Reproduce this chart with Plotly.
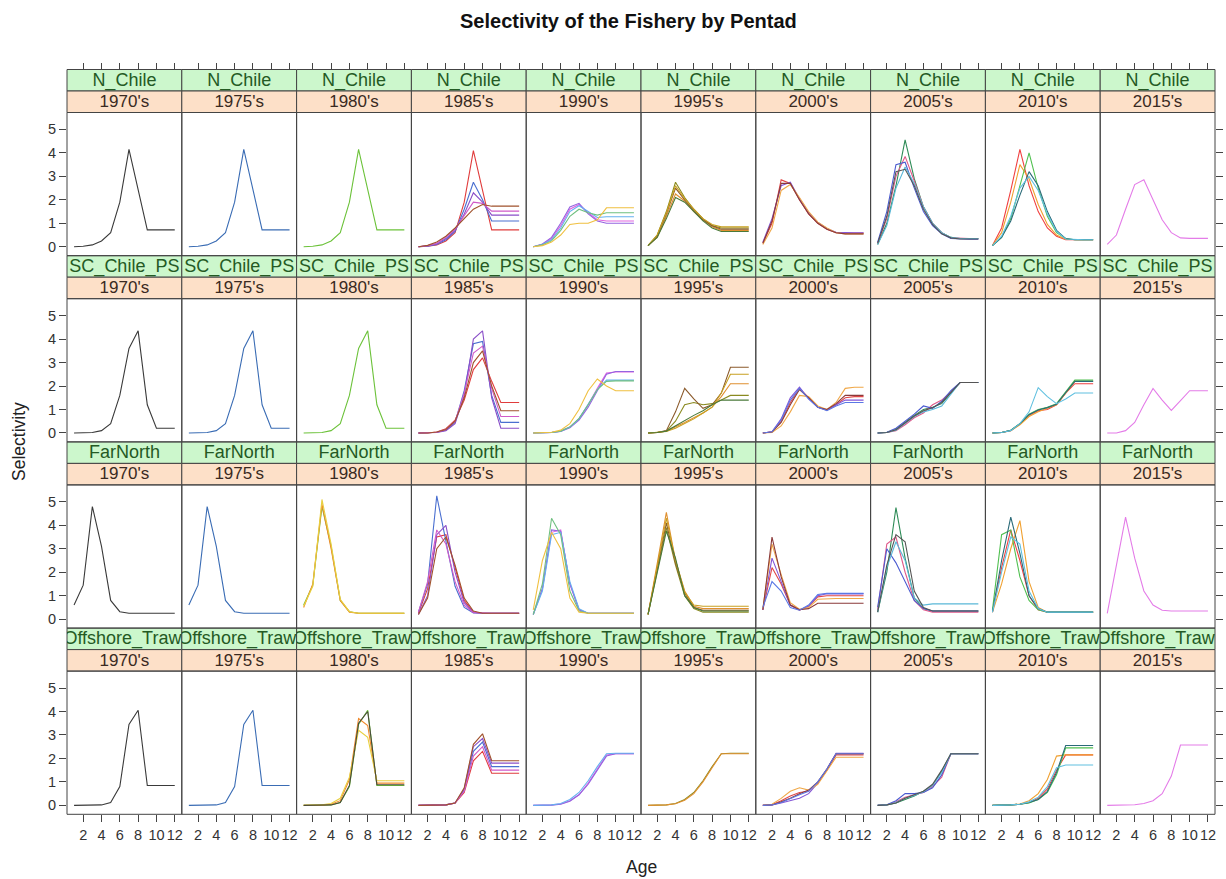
import plotly.graph_objects as go

# ---------------------------------------------------------------- data
ages = list(range(1, 13))
fleets = ["N_Chile", "SC_Chile_PS", "FarNorth", "Offshore_Trawl"]
pentads = ["1970's", "1975's", "1980's", "1985's", "1990's",
           "1995's", "2000's", "2005's", "2010's", "2015's"]
x_ticks = [2, 4, 6, 8, 10, 12]
y_ticks = [0, 1, 2, 3, 4, 5]

# selectivity-at-age curves (one list per year) for each fleet and pentad
n_chile = {
    "1970's": [[0.0, 0.02, 0.08, 0.25, 0.6, 1.9, 4.15, 2.45, 0.72, 0.72, 0.72, 0.72]],
    "1975's": [[0.0, 0.02, 0.08, 0.25, 0.6, 1.9, 4.15, 2.45, 0.72, 0.72, 0.72, 0.72]],
    "1980's": [[0.0, 0.02, 0.08, 0.25, 0.6, 1.9, 4.15, 2.45, 0.72, 0.72, 0.72, 0.72]],
    "1985's": [[0.0, 0.02, 0.08, 0.25, 0.6, 1.9, 4.1, 2.4, 0.72, 0.72, 0.72, 0.72],
               [0.0, 0.03, 0.1, 0.3, 0.65, 1.6, 2.75, 2.0, 1.1, 1.1, 1.1, 1.1],
               [0.0, 0.04, 0.12, 0.35, 0.7, 1.4, 2.3, 1.9, 1.35, 1.35, 1.35, 1.35],
               [0.0, 0.05, 0.15, 0.4, 0.75, 1.3, 1.9, 1.85, 1.52, 1.52, 1.52, 1.52],
               [0.0, 0.06, 0.2, 0.45, 0.8, 1.2, 1.6, 1.8, 1.73, 1.73, 1.73, 1.73]],
    "1990's": [[0.0, 0.1, 0.35, 0.9, 1.6, 1.8, 1.45, 1.15, 1.1, 1.1, 1.1, 1.1],
               [0.0, 0.12, 0.4, 1.0, 1.7, 1.85, 1.4, 1.1, 1.0, 1.0, 1.0, 1.0],
               [0.0, 0.1, 0.3, 0.8, 1.5, 1.75, 1.5, 1.25, 1.28, 1.28, 1.28, 1.28],
               [0.0, 0.08, 0.25, 0.7, 1.3, 1.6, 1.45, 1.35, 1.45, 1.45, 1.45, 1.45],
               [0.0, 0.05, 0.2, 0.5, 0.95, 1.0, 1.0, 1.15, 1.66, 1.66, 1.66, 1.66]],
    "1995's": [[0.05, 0.5, 1.5, 2.75, 2.1, 1.6, 1.2, 0.9, 0.8, 0.8, 0.8, 0.8],
               [0.05, 0.4, 1.3, 2.25, 1.95, 1.5, 1.15, 0.85, 0.7, 0.7, 0.7, 0.7],
               [0.05, 0.45, 1.4, 2.5, 2.0, 1.55, 1.15, 0.9, 0.75, 0.75, 0.75, 0.75],
               [0.05, 0.5, 1.45, 2.6, 2.05, 1.6, 1.2, 0.95, 0.85, 0.85, 0.85, 0.85],
               [0.05, 0.4, 1.2, 2.1, 1.9, 1.5, 1.1, 0.8, 0.65, 0.65, 0.65, 0.65]],
    "2000's": [[0.15, 1.0, 2.85, 2.7, 2.0, 1.4, 1.0, 0.75, 0.6, 0.58, 0.58, 0.58],
               [0.2, 1.2, 2.6, 2.75, 2.05, 1.45, 1.05, 0.78, 0.62, 0.6, 0.6, 0.6],
               [0.1, 0.8, 2.4, 2.65, 2.1, 1.5, 1.05, 0.8, 0.6, 0.55, 0.55, 0.55],
               [0.15, 1.1, 2.7, 2.7, 2.0, 1.4, 1.0, 0.75, 0.6, 0.55, 0.55, 0.55]],
    "2005's": [[0.1, 1.0, 2.6, 4.55, 2.9, 1.7, 1.0, 0.6, 0.4, 0.35, 0.35, 0.35],
               [0.15, 1.2, 3.0, 3.85, 2.8, 1.7, 1.0, 0.6, 0.38, 0.35, 0.35, 0.35],
               [0.2, 1.5, 3.5, 3.6, 2.5, 1.5, 0.9, 0.55, 0.35, 0.32, 0.32, 0.32],
               [0.1, 0.9, 2.5, 3.4, 2.7, 1.7, 1.0, 0.6, 0.4, 0.35, 0.35, 0.35],
               [0.15, 1.3, 3.2, 3.3, 2.6, 1.6, 0.95, 0.55, 0.38, 0.33, 0.33, 0.33]],
    "2010's": [[0.05, 0.8, 2.4, 4.15, 2.6, 1.5, 0.8, 0.45, 0.3, 0.3, 0.3, 0.3],
               [0.05, 0.6, 1.9, 3.5, 2.9, 1.8, 0.95, 0.5, 0.32, 0.3, 0.3, 0.3],
               [0.05, 0.4, 1.2, 2.6, 4.0, 2.5, 1.3, 0.6, 0.35, 0.3, 0.3, 0.3],
               [0.05, 0.4, 1.1, 2.2, 3.2, 2.6, 1.5, 0.7, 0.35, 0.3, 0.3, 0.3],
               [0.05, 0.45, 1.3, 2.5, 3.0, 2.4, 1.4, 0.65, 0.33, 0.3, 0.3, 0.3]],
    "2015's": [[0.1, 0.5, 1.6, 2.65, 2.85, 2.0, 1.15, 0.6, 0.38, 0.36, 0.36, 0.36]],
}

sc_chile_ps = {
    "1970's": [[0.0, 0.0, 0.02, 0.1, 0.4, 1.6, 3.6, 4.35, 1.2, 0.2, 0.2, 0.2]],
    "1975's": [[0.0, 0.0, 0.02, 0.1, 0.4, 1.6, 3.6, 4.35, 1.2, 0.2, 0.2, 0.2]],
    "1980's": [[0.0, 0.0, 0.02, 0.1, 0.4, 1.6, 3.6, 4.35, 1.2, 0.2, 0.2, 0.2]],
    "1985's": [[0.0, 0.0, 0.04, 0.18, 0.55, 1.4, 2.7, 3.2, 2.2, 1.3, 1.3, 1.3],
               [0.0, 0.0, 0.03, 0.12, 0.45, 1.8, 3.8, 3.9, 1.6, 0.45, 0.45, 0.45],
               [0.0, 0.0, 0.02, 0.1, 0.4, 1.6, 4.0, 4.35, 1.5, 0.2, 0.2, 0.2],
               [0.0, 0.0, 0.03, 0.15, 0.5, 1.7, 3.4, 3.7, 1.9, 0.7, 0.7, 0.7],
               [0.0, 0.0, 0.04, 0.15, 0.5, 1.5, 3.0, 3.5, 2.0, 0.95, 0.95, 0.95]],
    "1990's": [[0.0, 0.0, 0.02, 0.08, 0.25, 0.6, 1.2, 1.9, 2.55, 2.6, 2.6, 2.6],
               [0.0, 0.0, 0.02, 0.07, 0.22, 0.55, 1.1, 1.8, 2.5, 2.62, 2.62, 2.62],
               [0.0, 0.0, 0.02, 0.08, 0.25, 0.6, 1.2, 1.85, 2.25, 2.25, 2.25, 2.25],
               [0.0, 0.0, 0.02, 0.08, 0.26, 0.62, 1.2, 1.85, 2.2, 2.22, 2.22, 2.22],
               [0.0, 0.0, 0.03, 0.12, 0.4, 1.0, 1.8, 2.3, 2.0, 1.8, 1.8, 1.8]],
    "1995's": [[0.0, 0.02, 0.08, 0.5, 1.2, 1.3, 1.2, 1.25, 1.4, 1.6, 1.6, 1.6],
               [0.0, 0.02, 0.08, 0.25, 0.45, 0.65, 0.85, 1.1, 1.55, 2.1, 2.1, 2.1],
               [0.0, 0.02, 0.1, 0.9, 1.9, 1.45, 1.05, 1.2, 1.7, 2.8, 2.8, 2.8],
               [0.0, 0.02, 0.06, 0.2, 0.4, 0.6, 0.85, 1.1, 1.7, 2.5, 2.5, 2.5],
               [0.0, 0.02, 0.08, 0.3, 0.55, 0.75, 0.95, 1.2, 1.4, 1.4, 1.4, 1.4]],
    "2000's": [[0.0, 0.05, 0.5, 1.3, 1.9, 1.5, 1.1, 0.97, 1.2, 1.5, 1.55, 1.55],
               [0.0, 0.05, 0.6, 1.5, 1.95, 1.45, 1.1, 0.98, 1.2, 1.4, 1.4, 1.4],
               [0.0, 0.02, 0.3, 0.9, 1.6, 1.55, 1.15, 1.0, 1.3, 1.9, 1.95, 1.95],
               [0.0, 0.04, 0.45, 1.2, 1.85, 1.5, 1.1, 1.0, 1.25, 1.6, 1.6, 1.6],
               [0.0, 0.05, 0.55, 1.4, 1.9, 1.45, 1.1, 0.95, 1.15, 1.3, 1.3, 1.3]],
    "2005's": [[0.0, 0.02, 0.15, 0.45, 0.75, 1.0, 1.1, 1.25, 1.7, 2.15, 2.15, 2.15],
               [0.0, 0.02, 0.1, 0.35, 0.65, 0.85, 1.2, 1.4, 1.75, 2.15, 2.15, 2.15],
               [0.0, 0.03, 0.2, 0.5, 0.8, 1.15, 1.05, 1.35, 1.8, 2.15, 2.15, 2.15],
               [0.0, 0.02, 0.12, 0.4, 0.7, 0.9, 1.0, 1.15, 1.65, 2.15, 2.15, 2.15],
               [0.0, 0.02, 0.14, 0.42, 0.72, 0.95, 1.08, 1.3, 1.72, 2.15, 2.15, 2.15]],
    "2010's": [[0.0, 0.02, 0.1, 0.38, 0.75, 0.95, 1.0, 1.2, 1.7, 2.1, 2.1, 2.1],
               [0.0, 0.02, 0.1, 0.35, 0.7, 0.9, 1.05, 1.2, 1.7, 2.2, 2.2, 2.2],
               [0.0, 0.02, 0.12, 0.4, 0.8, 1.0, 1.1, 1.25, 1.75, 2.25, 2.25, 2.25],
               [0.0, 0.02, 0.11, 0.4, 0.78, 0.98, 1.08, 1.22, 1.72, 2.2, 2.2, 2.2],
               [0.0, 0.02, 0.1, 0.4, 0.9, 1.93, 1.55, 1.25, 1.45, 1.7, 1.7, 1.7]],
    "2015's": [[0.0, 0.0, 0.1, 0.45, 1.2, 1.9, 1.4, 0.96, 1.38, 1.8, 1.8, 1.8]],
}

far_north = {
    "1970's": [[0.6, 1.45, 4.8, 3.1, 0.8, 0.32, 0.25, 0.25, 0.25, 0.25, 0.25, 0.25]],
    "1975's": [[0.6, 1.45, 4.8, 3.1, 0.8, 0.32, 0.25, 0.25, 0.25, 0.25, 0.25, 0.25]],
    "1980's": [[0.6, 1.45, 4.8, 3.1, 0.8, 0.32, 0.25, 0.25, 0.25, 0.25, 0.25, 0.25],
               [0.5, 1.5, 4.9, 3.0, 0.8, 0.3, 0.25, 0.25, 0.25, 0.25, 0.25, 0.25],
               [0.55, 1.4, 5.1, 3.2, 0.85, 0.32, 0.25, 0.25, 0.25, 0.25, 0.25, 0.25]],
    "1985's": [[0.25, 1.3, 3.5, 3.6, 2.2, 0.8, 0.3, 0.25, 0.25, 0.25, 0.25, 0.25],
               [0.3, 1.5, 5.25, 3.3, 1.4, 0.5, 0.27, 0.25, 0.25, 0.25, 0.25, 0.25],
               [0.2, 1.0, 3.6, 4.0, 2.0, 0.7, 0.3, 0.25, 0.25, 0.25, 0.25, 0.25],
               [0.3, 1.6, 3.8, 3.2, 1.6, 0.6, 0.28, 0.25, 0.25, 0.25, 0.25, 0.25],
               [0.2, 0.9, 3.0, 3.5, 2.3, 0.9, 0.35, 0.25, 0.25, 0.25, 0.25, 0.25]],
    "1990's": [[0.2, 1.3, 3.7, 3.8, 1.5, 0.4, 0.25, 0.25, 0.25, 0.25, 0.25, 0.25],
               [0.2, 1.3, 3.8, 3.75, 1.5, 0.4, 0.25, 0.25, 0.25, 0.25, 0.25, 0.25],
               [0.2, 1.2, 3.6, 3.7, 1.6, 0.45, 0.25, 0.25, 0.25, 0.25, 0.25, 0.25],
               [0.2, 1.5, 4.3, 3.6, 1.2, 0.35, 0.25, 0.25, 0.25, 0.25, 0.25, 0.25],
               [0.4, 2.5, 3.7, 3.0, 0.9, 0.3, 0.25, 0.25, 0.25, 0.25, 0.25, 0.25]],
    "1995's": [[0.2, 2.0, 3.9, 2.3, 1.0, 0.45, 0.3, 0.3, 0.3, 0.3, 0.3, 0.3],
               [0.2, 2.3, 4.55, 2.5, 1.2, 0.55, 0.45, 0.45, 0.45, 0.45, 0.45, 0.45],
               [0.2, 2.1, 4.1, 2.4, 1.1, 0.5, 0.38, 0.38, 0.38, 0.38, 0.38, 0.38],
               [0.2, 2.2, 4.3, 2.5, 1.15, 0.6, 0.55, 0.55, 0.55, 0.55, 0.55, 0.55],
               [0.2, 2.0, 3.75, 2.6, 1.0, 0.5, 0.35, 0.35, 0.35, 0.35, 0.35, 0.35]],
    "2000's": [[0.4, 2.2, 1.5, 0.6, 0.38, 0.55, 0.95, 1.0, 1.0, 1.0, 1.0, 1.0],
               [0.4, 2.6, 1.6, 0.6, 0.4, 0.55, 1.0, 1.08, 1.08, 1.08, 1.08, 1.08],
               [0.45, 3.2, 1.9, 0.7, 0.42, 0.5, 0.85, 0.88, 0.88, 0.88, 0.88, 0.88],
               [0.4, 3.5, 1.8, 0.6, 0.4, 0.45, 0.68, 0.68, 0.68, 0.68, 0.68, 0.68],
               [0.5, 1.6, 1.2, 0.5, 0.38, 0.6, 1.05, 1.1, 1.1, 1.1, 1.1, 1.1]],
    "2005's": [[0.3, 2.0, 4.75, 2.6, 0.9, 0.45, 0.35, 0.35, 0.35, 0.35, 0.35, 0.35],
               [0.4, 3.2, 3.5, 2.0, 0.8, 0.4, 0.3, 0.3, 0.3, 0.3, 0.3, 0.3],
               [0.5, 3.0, 2.4, 1.6, 0.8, 0.45, 0.35, 0.35, 0.35, 0.35, 0.35, 0.35],
               [0.3, 2.2, 3.3, 2.5, 0.9, 0.6, 0.65, 0.65, 0.65, 0.65, 0.65, 0.65],
               [0.3, 2.3, 3.6, 3.3, 1.2, 0.5, 0.35, 0.35, 0.35, 0.35, 0.35, 0.35]],
    "2010's": [[0.3, 2.2, 3.8, 2.5, 1.0, 0.4, 0.3, 0.3, 0.3, 0.3, 0.3, 0.3],
               [0.3, 1.5, 3.0, 4.2, 1.6, 0.5, 0.3, 0.3, 0.3, 0.3, 0.3, 0.3],
               [0.4, 3.6, 3.8, 1.8, 0.8, 0.4, 0.3, 0.3, 0.3, 0.3, 0.3, 0.3],
               [0.3, 2.5, 4.35, 2.8, 1.0, 0.45, 0.3, 0.3, 0.3, 0.3, 0.3, 0.3],
               [0.3, 2.0, 3.5, 3.2, 1.2, 0.45, 0.3, 0.3, 0.3, 0.3, 0.3, 0.3]],
    "2015's": [[0.25, 2.3, 4.35, 2.6, 1.2, 0.6, 0.38, 0.35, 0.35, 0.35, 0.35, 0.35]],
}

offshore_trawl = {
    "1970's": [[0.0, 0.0, 0.0, 0.02, 0.12, 0.8, 3.45, 4.05, 0.85, 0.85, 0.85, 0.85]],
    "1975's": [[0.0, 0.0, 0.0, 0.02, 0.12, 0.8, 3.45, 4.05, 0.85, 0.85, 0.85, 0.85]],
    "1980's": [[0.0, 0.0, 0.0, 0.02, 0.12, 0.8, 3.45, 4.05, 0.85, 0.85, 0.85, 0.85],
               [0.0, 0.0, 0.01, 0.05, 0.2, 1.1, 3.7, 3.4, 0.95, 0.95, 0.95, 0.95],
               [0.0, 0.0, 0.02, 0.08, 0.3, 1.2, 3.2, 2.9, 1.05, 1.05, 1.05, 1.05],
               [0.0, 0.0, 0.0, 0.02, 0.12, 0.85, 3.5, 4.0, 0.88, 0.88, 0.88, 0.88]],
    "1985's": [[0.0, 0.0, 0.0, 0.02, 0.1, 0.55, 1.9, 2.3, 1.37, 1.37, 1.37, 1.37],
               [0.0, 0.0, 0.0, 0.02, 0.1, 0.65, 2.3, 2.7, 1.65, 1.65, 1.65, 1.65],
               [0.0, 0.0, 0.0, 0.02, 0.1, 0.7, 2.5, 2.85, 1.8, 1.8, 1.8, 1.8],
               [0.0, 0.0, 0.0, 0.02, 0.1, 0.6, 2.1, 2.5, 1.5, 1.5, 1.5, 1.5],
               [0.0, 0.0, 0.0, 0.02, 0.1, 0.75, 2.6, 3.05, 1.9, 1.9, 1.9, 1.9]],
    "1990's": [[0.0, 0.0, 0.02, 0.06, 0.2, 0.45, 0.95, 1.55, 2.15, 2.2, 2.2, 2.2],
               [0.0, 0.0, 0.01, 0.05, 0.18, 0.45, 0.9, 1.5, 2.1, 2.2, 2.2, 2.2],
               [0.0, 0.0, 0.02, 0.08, 0.25, 0.55, 1.05, 1.65, 2.2, 2.22, 2.22, 2.22]],
    "1995's": [[0.0, 0.0, 0.02, 0.08, 0.25, 0.55, 1.05, 1.65, 2.2, 2.22, 2.22, 2.22],
               [0.0, 0.0, 0.02, 0.07, 0.22, 0.5, 1.0, 1.6, 2.2, 2.2, 2.2, 2.2]],
    "2000's": [[0.0, 0.03, 0.2, 0.4, 0.55, 0.6, 0.95, 1.5, 2.15, 2.15, 2.15, 2.15],
               [0.0, 0.02, 0.1, 0.2, 0.3, 0.5, 0.95, 1.55, 2.22, 2.22, 2.22, 2.22],
               [0.0, 0.05, 0.3, 0.6, 0.75, 0.65, 0.9, 1.5, 2.05, 2.05, 2.05, 2.05],
               [0.0, 0.02, 0.15, 0.3, 0.5, 0.65, 1.0, 1.55, 2.2, 2.2, 2.2, 2.2],
               [0.0, 0.02, 0.12, 0.3, 0.45, 0.6, 1.0, 1.55, 2.2, 2.2, 2.2, 2.2]],
    "2005's": [[0.0, 0.02, 0.1, 0.25, 0.4, 0.6, 0.85, 1.45, 2.2, 2.2, 2.2, 2.2],
               [0.0, 0.02, 0.15, 0.35, 0.45, 0.55, 0.8, 1.2, 2.2, 2.2, 2.2, 2.2],
               [0.0, 0.03, 0.2, 0.5, 0.5, 0.55, 0.75, 1.3, 2.2, 2.2, 2.2, 2.2],
               [0.0, 0.02, 0.12, 0.3, 0.42, 0.58, 0.85, 1.4, 2.2, 2.2, 2.2, 2.2],
               [0.0, 0.02, 0.1, 0.3, 0.45, 0.6, 0.9, 1.5, 2.2, 2.2, 2.2, 2.2]],
    "2010's": [[0.0, 0.0, 0.02, 0.05, 0.12, 0.3, 0.7, 1.5, 2.15, 2.15, 2.15, 2.15],
               [0.0, 0.0, 0.02, 0.06, 0.2, 0.5, 1.1, 2.1, 2.15, 2.15, 2.15, 2.15],
               [0.0, 0.0, 0.02, 0.05, 0.1, 0.25, 0.55, 1.3, 2.45, 2.45, 2.45, 2.45],
               [0.0, 0.0, 0.02, 0.05, 0.12, 0.25, 0.6, 1.4, 2.55, 2.55, 2.55, 2.55],
               [0.0, 0.0, 0.02, 0.05, 0.15, 0.35, 0.8, 1.6, 1.72, 1.72, 1.72, 1.72]],
    "2015's": [[0.0, 0.0, 0.01, 0.03, 0.08, 0.2, 0.5, 1.25, 2.57, 2.57, 2.57, 2.57]],
}

fleet_data = [n_chile, sc_chile_ps, far_north, offshore_trawl]

# ---------------------------------------------------------------- style
pentad_colors = {
    "1970's": ["#3a3a3a"],
    "1975's": ["#3a6cb4"],
    "1980's": ["#6cc23a", "#f08a2c", "#e8d040", "#4a4a3a"],
    "1985's": ["#e03c3c", "#4a6fd0", "#8a4fc8", "#d05ac8", "#a0522d"],
    "1990's": ["#e064e0", "#9464e0", "#64b0f0", "#70c080", "#f0c040"],
    "1995's": ["#8a8a20", "#e09030", "#8b5a2b", "#c8a020", "#4a7a3a"],
    "2000's": ["#e04848", "#8456d6", "#f0a848", "#8b3a3a", "#5a78e6"],
    "2005's": ["#2e8b57", "#e05a8a", "#4a5ad0", "#5ab8d8", "#555555"],
    "2010's": ["#f04040", "#f0a030", "#50c050", "#2a6a78", "#60c0e0"],
    "2015's": ["#e47ce8"],
}

W, H = 1226, 879
FONT = "Liberation Sans, Arial, sans-serif"
EDGE = "#444444"
GREEN_STRIP = "#ccf7cc"
PEACH_STRIP = "#fde0c8"
X_RANGE = [0.23, 12.77]
Y_RANGE = [-0.38, 5.72]

COL_LEFT, COL_W = 67.0, 114.8
ROW_TOP, ROW_H, STRIP_H = 69.5, 186.2, 21.5


def px_x(p):
    return p / W


def px_y(p):
    return 1 - p / H


def ax_id(prefix, n):
    return prefix if n == 1 else f"{prefix}{n}"


fig = go.Figure()
layout = dict(
    width=W, height=H, autosize=False,
    margin=dict(l=0, r=0, t=0, b=0),
    paper_bgcolor="white", plot_bgcolor="rgba(0,0,0,0)",
    showlegend=False, font=dict(family=FONT, color="#333333"),
)
shapes = []

# panel x axes (labels along the bottom row) and tick-only copies on top
for c in range(len(pentads)):
    xl = px_x(COL_LEFT + COL_W * c)
    xr = px_x(COL_LEFT + COL_W * (c + 1))
    layout["xaxis" if c == 0 else f"xaxis{c + 1}"] = dict(
        domain=[xl, xr], range=X_RANGE, anchor="y4", side="bottom",
        tickmode="array", tickvals=x_ticks, ticks="outside", ticklen=7,
        tickcolor=EDGE, showgrid=False, zeroline=False, showline=False,
        tickfont=dict(size=14.5, color="#333333", family=FONT), fixedrange=True,
    )
    layout[f"xaxis{11 + c}"] = dict(
        overlaying=ax_id("x", c + 1), side="top", anchor="free",
        position=px_y(ROW_TOP), range=X_RANGE, tickmode="array",
        tickvals=x_ticks, ticks="outside", ticklen=7, tickcolor=EDGE,
        showticklabels=False, showgrid=False, zeroline=False, showline=False,
    )

# panel y axes (labels on the left), tick-only copies on the right, strip axes
for r in range(len(fleets)):
    top = ROW_TOP + ROW_H * r
    layout[ax_id("yaxis", r + 1)] = dict(
        domain=[px_y(top + ROW_H), px_y(top + 2 * STRIP_H)], range=Y_RANGE,
        anchor="x", side="left", tickmode="array", tickvals=y_ticks,
        ticks="outside", ticklen=7, tickcolor=EDGE, showgrid=False,
        zeroline=False, showline=False,
        tickfont=dict(size=14.5, color="#333333", family=FONT), fixedrange=True,
    )
    layout[f"yaxis{5 + r}"] = dict(
        overlaying=ax_id("y", r + 1), side="right", anchor="x10",
        range=Y_RANGE, tickmode="array", tickvals=y_ticks, ticks="outside",
        ticklen=7, tickcolor=EDGE, showticklabels=False, showgrid=False,
        zeroline=False, showline=False,
    )
    layout[f"yaxis{9 + r}"] = dict(
        domain=[px_y(top + STRIP_H), px_y(top)], range=[0, 1],
        anchor="x", visible=False, fixedrange=True,
    )
    layout[f"yaxis{13 + r}"] = dict(
        domain=[px_y(top + 2 * STRIP_H), px_y(top + STRIP_H)], range=[0, 1],
        anchor="x", visible=False, fixedrange=True,
    )

# curves, strips and panel frames
for r, fleet in enumerate(fleets):
    top = ROW_TOP + ROW_H * r
    for c, pentad in enumerate(pentads):
        xa = ax_id("x", c + 1)
        colors = pentad_colors[pentad]
        for k, curve in enumerate(fleet_data[r][pentad]):
            fig.add_trace(go.Scatter(
                x=ages, y=curve, mode="lines", xaxis=xa, yaxis=ax_id("y", r + 1),
                line=dict(color=colors[k % len(colors)], width=1.1),
                hoverinfo="skip", showlegend=False,
            ))
        for label, yax, color, size in ((fleet, f"y{9 + r}", "#245a24", 18),
                                        (pentad, f"y{13 + r}", "#3a2a22", 17)):
            fig.add_trace(go.Scatter(
                x=[sum(X_RANGE) / 2], y=[0.45], mode="text", text=[label],
                textposition="middle center", cliponaxis=True,
                textfont=dict(size=size, color=color, family=FONT),
                xaxis=xa, yaxis=yax, hoverinfo="skip", showlegend=False,
            ))
        x0 = px_x(COL_LEFT + COL_W * c)
        x1 = px_x(COL_LEFT + COL_W * (c + 1))
        shapes.append(dict(type="rect", xref="paper", yref="paper", layer="below",
                           x0=x0, x1=x1, y0=px_y(top + STRIP_H), y1=px_y(top),
                           fillcolor=GREEN_STRIP, line=dict(color=EDGE, width=1)))
        shapes.append(dict(type="rect", xref="paper", yref="paper", layer="below",
                           x0=x0, x1=x1, y0=px_y(top + 2 * STRIP_H),
                           y1=px_y(top + STRIP_H),
                           fillcolor=PEACH_STRIP, line=dict(color=EDGE, width=1)))
        shapes.append(dict(type="rect", xref="paper", yref="paper", layer="above",
                           x0=x0, x1=x1, y0=px_y(top + ROW_H),
                           y1=px_y(top + 2 * STRIP_H),
                           fillcolor="rgba(0,0,0,0)", line=dict(color=EDGE, width=1)))

# empty traces so the tick-only axes are drawn
for c in range(len(pentads)):
    fig.add_trace(go.Scatter(x=[None], y=[None], xaxis=f"x{11 + c}", yaxis="y",
                             hoverinfo="skip", showlegend=False))
for r in range(len(fleets)):
    fig.add_trace(go.Scatter(x=[None], y=[None], xaxis="x10", yaxis=f"y{5 + r}",
                             hoverinfo="skip", showlegend=False))

layout["shapes"] = shapes
layout["annotations"] = [
    dict(text="<b>Selectivity of the Fishery by Pentad</b>", xref="paper",
         yref="paper", x=px_x(628), y=px_y(21), xanchor="center",
         yanchor="middle", showarrow=False,
         font=dict(size=20, color="#111111", family=FONT)),
    dict(text="Selectivity", xref="paper", yref="paper", x=px_x(19),
         y=px_y(442), xanchor="center", yanchor="middle", textangle=-90,
         showarrow=False, font=dict(size=17.5, color="#222222", family=FONT)),
    dict(text="Age", xref="paper", yref="paper", x=px_x(641), y=px_y(867),
         xanchor="center", yanchor="middle", showarrow=False,
         font=dict(size=17.5, color="#222222", family=FONT)),
]

fig.update_layout(**layout)
fig.write_html("out.html")
